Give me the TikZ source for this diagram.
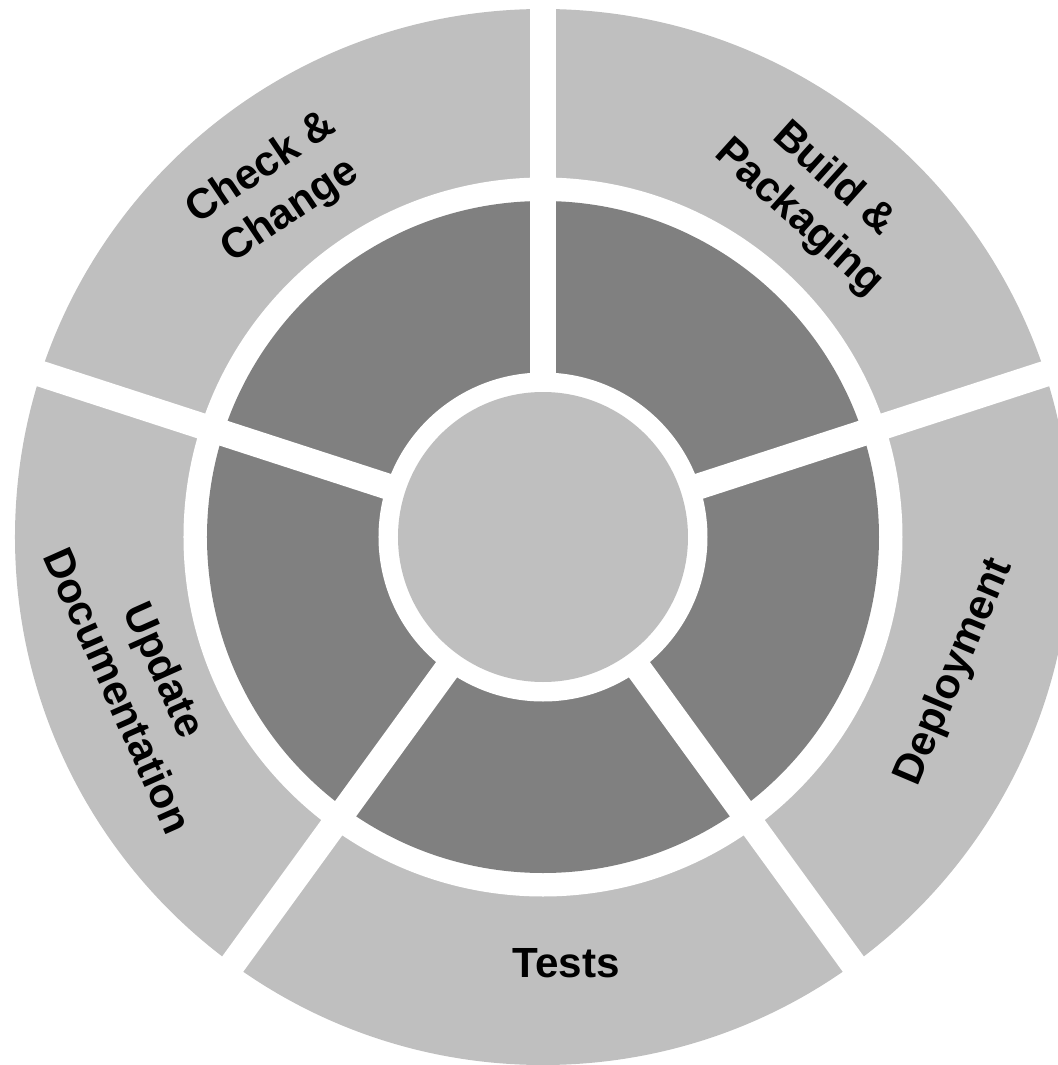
\documentclass[tikz,border=0pt]{standalone}
\usepackage{fontspec}
\setmainfont{Liberation Sans}
\definecolor{ringlight}{HTML}{BFBFBF}
\definecolor{ringdark}{HTML}{808080}
\tikzset{
  phase/.style={font=\bfseries\fontsize{12}{14.7}\selectfont, align=center, inner sep=0pt},
  cut/.style={white, line width=0.26cm}
}
\begin{document}
\begin{tikzpicture}
\useasboundingbox (-5.43,-5.28) rectangle (5.15,5.37);
\clip (-5.43,-5.28) rectangle (5.15,5.37);
% rings
\fill[ringlight] (0,0) circle (5.28);
\fill[white] (0,0) circle (3.595);
\fill[ringdark] (0,0) circle (3.36);
\fill[white] (0,0) circle (1.645);
% gaps between the phases
\foreach \a in {90,18,-54,-126,162}
  \draw[cut] (\a:1.5) -- (\a:5.6);
\fill[ringlight] (0,0) circle (1.45);
% labels
\node[phase, rotate=34] (check) at (-2.67,3.47) {Check \&\\Change};
\node[phase, rotate=-42] (build) at (2.73,3.38) {Build \&\\Packaging};
\node[phase, rotate=67] (deploy) at (4.12,-1.35) {Deployment};
\node[phase] (tests) at (0.23,-4.26) {Tests};
\node[phase, rotate=-66] (docs) at (-4.01,-1.43) {Update\\Documentation};
\end{tikzpicture}
\end{document}
